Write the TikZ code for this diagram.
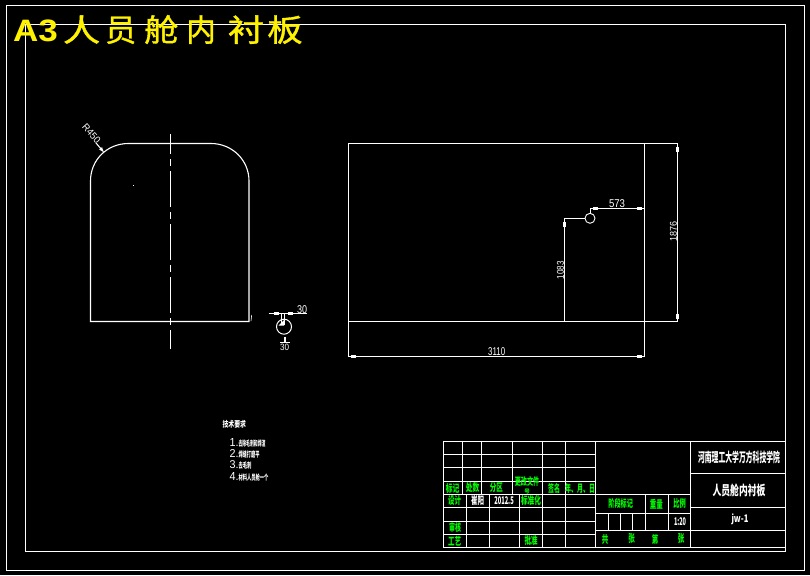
\documentclass[tikz,border=0pt]{standalone}
\usepackage{fontspec}
\usetikzlibrary{arrows.meta}
\setmainfont{Liberation Sans}
\newfontfamily\cjk{Noto Sans CJK SC}
\newfontfamily\cjkhead[FakeBold=1.2]{Noto Sans CJK SC}
\newcommand{\fitc}[3]{\resizebox*{#1pt}{#2pt}{\cjk\bfseries #3}}
\newcommand{\fitd}[3]{\resizebox*{#1pt}{#2pt}{\rmfamily #3}}
\newcommand{\blk}[2]{\fill[white] (#1-2.5,#2-1.7) rectangle (#1+2.5,#2+1.7);}
\newcommand{\blv}[2]{\fill[white] (#1-1.7,#2-2.5) rectangle (#1+1.7,#2+2.5);}
\newcommand{\hd}[2]{\scalebox{#1}[1]{\fontsize{31}{31}\selectfont\cjkhead #2}}
\tikzset{
  ln/.style={white,line width=1.1pt},
  axisline/.style={white,line width=1.1pt,dash pattern=on 36pt off 5pt on 7pt off 5pt,dash phase=16pt},
  gt/.style={text=green,inner sep=0pt},
  wt/.style={text=white,inner sep=0pt},
  yt/.style={text=yellow,inner sep=0pt}
}
\begin{document}
\begin{tikzpicture}[x=1pt,y=-1pt]
\useasboundingbox (0,0) rectangle (810,575);
\fill[black] (0,0) rectangle (810,575);
% frames
\coordinate (outerA) at (6.5,5.5);
\coordinate (outerB) at (804.5,570.5);
\coordinate (innerA) at (25.5,24.5);
\coordinate (innerB) at (785.5,551.5);
\draw[ln] (outerA) rectangle (outerB);
\draw[ln] (innerA) rectangle (innerB);
% title
\node[yt,anchor=west] (title) at (13,29.5) {\scalebox{1.13}[1]{\fontsize{31}{31}\selectfont\bfseries A3}\hspace{5pt}\hd{1.2}{人}\hspace{5pt}\hd{1.0}{员}\hspace{8pt}\hd{1.1}{舱}\hspace{8pt}\hd{0.95}{内}\hspace{12pt}\hd{1.18}{衬}\hspace{3pt}\hd{1.14}{板}};
% left view
\draw[ln] (90.5,321.5) -- (90.5,181) .. controls (90.5,160) and (107,143.5) .. (128.5,143.5) -- (211,143.5) .. controls (232,143.5) and (249,160) .. (249,181) -- (249,321.5) -- cycle;
\draw[axisline] (170.5,134) -- (170.5,349);
\fill[white] (133,184.5) rectangle (134,185.5);
\draw[white,line width=0.6pt] (251,321) -- (251.7,315);
\coordinate (rFrom) at (96,143);
\coordinate (rTo) at (104.5,153);
\draw[ln,-{Latex[length=6pt,width=4pt]}] (rFrom) -- (rTo);
\node[wt,rotate=-48] (r450) at (91.5,133.5) {\fitd{22}{7}{R450}};
% small detail
\node[draw=white,circle,line width=1pt,minimum size=15pt,inner sep=0pt] (hole) at (284,326.7) {};
\fill[white] (278.5,325.5) -- (284,320) -- (284,325.5) -- cycle;
\draw[ln] (268.5,313.5) -- (306.5,313.5);
\draw[ln] (281.7,313.5) -- (281.7,325);
\draw[ln] (284.5,313.5) -- (284.5,325);
\blk{276}{313.5}\blk{290}{313.5}
\node[wt] (d30a) at (302,309.5) {\fitd{10}{8}{30}};
\draw[ln] (285,336.5) -- (285,342.7);
\draw[ln] (280,342.7) -- (289.5,342.7);
\node[wt] (d30b) at (284.5,347.5) {\fitd{9}{6.5}{30}};
% right view
\coordinate (ra) at (348.5,143.5);
\coordinate (rb) at (644.5,321.5);
\draw[ln] (ra) rectangle (rb);
\draw[ln] (644.5,143.5) -- (677.7,143.5) -- (677.7,321.5) -- (644.5,321.5);
\blv{677.7}{149}\blv{677.7}{316}
\node[wt,rotate=90] (d1876) at (673.5,231.5) {\fitd{20}{7}{1876}};
\draw[ln] (348.5,321.5) -- (348.5,356.5) -- (644.5,356.5) -- (644.5,321.5);
\blk{353.5}{356.3}\blk{639}{356.3}
\node[wt] (d3110) at (496.7,352) {\fitd{17}{8}{3110}};
\node[draw=white,circle,line width=0.9pt,minimum size=10pt,inner sep=0pt] (smallhole) at (590,218.3) {};
\draw[ln] (564.5,321.5) -- (564.5,218.5) -- (585,218.5);
\blv{564.5}{224}
\node[wt,rotate=90] (d1083) at (560.5,270) {\fitd{18}{7}{1083}};
\draw[ln] (590.5,213) -- (590.5,208.5) -- (644.5,208.5);
\blk{595}{208.5}\blk{639}{208.5}
\node[wt] (d573) at (617,204) {\fitd{16}{8}{573}};
% technical requirements
\node[wt] (tj) at (234.3,424.3) {\fitc{23.5}{8}{技术要求}};
\node[wt,anchor=west] (t1) at (229.3,443.3) {\fitd{9}{8}{1.}\fitc{27}{7.5}{去除毛刺和焊渣}};
\node[wt,anchor=west] (t2) at (229.3,454.3) {\fitd{9}{8}{2.}\fitc{21}{7.5}{焊缝打磨平}};
\node[wt,anchor=west] (t3) at (229.3,465.3) {\fitd{9}{8}{3.}\fitc{13}{7.5}{去毛刺}};
\node[wt,anchor=west] (t4) at (229.3,476.5) {\fitd{9}{8}{4.}\fitc{30}{7.5}{材料人员舱一个}};
% title block grid
\draw[ln] (443.5,441.5) rectangle (785.5,547.5);
\foreach \yy in {454.5,467.5,481.5,507.5,521.5,534.5} \draw[ln] (443.5,\yy) -- (595.5,\yy);
\draw[ln] (443.5,494.5) -- (690.5,494.5);
\foreach \xx in {462.5,481.5,512.5} \draw[ln] (\xx,441.5) -- (\xx,494.5);
\foreach \xx in {466.5,489.5,519.5} \draw[ln] (\xx,494.5) -- (\xx,547.5);
\foreach \xx in {542.5,565.5,595.5} \draw[ln] (\xx,441.5) -- (\xx,547.5);
\draw[ln] (595.5,513.5) -- (690.5,513.5);
\draw[ln] (595.5,530.5) -- (785.5,530.5);
\foreach \xx in {608.5,620.5,632.5} \draw[ln] (\xx,513.5) -- (\xx,530.5);
\foreach \xx in {645.5,668.5} \draw[ln] (\xx,494.5) -- (\xx,530.5);
\draw[ln] (690.5,441.5) -- (690.5,547.5);
\draw[ln] (690.5,473.5) -- (785.5,473.5);
\draw[ln] (690.5,507.5) -- (785.5,507.5);
% title block labels
\node[gt] (l1) at (452.7,488) {\fitc{13.5}{10}{标记}};
\node[gt] (l2) at (472.7,488) {\fitc{13.5}{10}{处数}};
\node[gt] (l3) at (496.3,488) {\fitc{13}{10}{分区}};
\node[gt] (l4) at (527,482) {\fitc{24.5}{10}{更改文件}};
\node[gt] (l4b) at (527,491.7) {\fitc{5.5}{5}{号}};
\node[gt] (l5) at (554,488) {\fitc{12}{10}{签名}};
\node[gt] (l6) at (580,488) {\fitc{30}{10}{年、月、日}};
\node[gt] (l7) at (454.7,501) {\fitc{13}{10}{设计}};
\node[wt] (l8) at (477.7,501) {\fitc{13}{10}{崔阳}};
\node[wt] (l9) at (504,501) {\fitc{19.5}{8}{2012.5}};
\node[gt] (l10) at (531,501) {\fitc{20}{10}{标准化}};
\node[gt] (l11) at (455,527.7) {\fitc{12}{10}{审核}};
\node[gt] (l12) at (454.7,541) {\fitc{13}{10}{工艺}};
\node[gt] (l13) at (531,541) {\fitc{13}{10}{批准}};
\node[gt] (l14) at (620.7,504) {\fitc{24.5}{10}{阶段标记}};
\node[gt] (l15) at (656.3,504) {\fitc{13}{10}{重量}};
\node[gt] (l16) at (679.5,504) {\fitc{12.5}{10}{比例}};
\node[wt] (l17) at (680,522) {\fitc{12}{8}{1:20}};
\node[gt] (l18) at (605,539) {\fitc{6.5}{10}{共}};
\node[gt] (l19) at (631.7,539) {\fitc{6.5}{10}{张}};
\node[gt] (l20) at (655,539) {\fitc{6.5}{10}{第}};
\node[gt] (l21) at (681,539) {\fitc{6.5}{10}{张}};
\node[wt] (l22) at (739,457.3) {\fitc{82}{13}{河南理工大学万方科技学院}};
\node[wt] (l23) at (739,490.7) {\fitc{53}{13}{人员舱内衬板}};
\node[wt] (l24) at (740,519) {\fitc{17}{11}{jw-1}};
\end{tikzpicture}
\end{document}
